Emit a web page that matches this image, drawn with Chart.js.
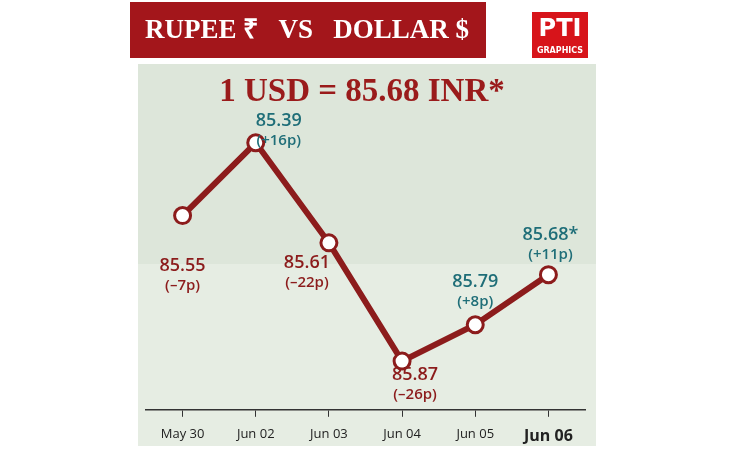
<!DOCTYPE html>
<html>
<head>
<meta charset="utf-8">
<script src="https://cdn.jsdelivr.net/npm/chart.js@4"></script>
<style>
  body { margin: 0; background: #fff; }
  #wrap { width: 750px; height: 450px; }
</style>
</head>
<body>
<div id="wrap"><canvas id="c" width="750" height="450"></canvas></div>
<script>
const dates = ['May 30', 'Jun 02', 'Jun 03', 'Jun 04', 'Jun 05', 'Jun 06'];
const rates = [85.55, 85.39, 85.61, 85.87, 85.79, 85.68];
const changes = ['(–7p)', '(+16p)', '(–22p)', '(–26p)', '(+8p)', '(+11p)'];
const rateLabels = ['85.55', '85.39', '85.61', '85.87', '85.79', '85.68*'];

const RED = '#8c1c1c';
const TEAL = '#1f6e78';

// where each value label sits relative to its point
const labelOffsets = [[0, 50], [23, -22], [-22, 20], [13, 14], [0, -43], [2, -40]];

const decor = {
  id: 'decor',
  beforeDraw(chart) {
    const ctx = chart.ctx;
    ctx.save();
    ctx.fillStyle = '#fff';
    ctx.fillRect(0, 0, 750, 450);
    // pale banknote backdrop
    ctx.fillStyle = '#e6ede3';
    ctx.fillRect(138, 64, 458, 382);
    ctx.fillStyle = '#dde6da';
    ctx.fillRect(138, 64, 458, 200);
    // title bar
    ctx.fillStyle = '#a3161b';
    ctx.fillRect(130, 2, 356, 56);
    ctx.fillStyle = '#fff';
    ctx.font = 'bold 27px "Liberation Serif", serif';
    ctx.textBaseline = 'middle';
    ctx.fillText('RUPEE ₹   VS   DOLLAR $', 145, 31);
    // PTI logo
    ctx.fillStyle = '#d7141a';
    ctx.fillRect(532, 12, 56, 46);
    ctx.fillStyle = '#fff';
    ctx.textAlign = 'center';
    ctx.font = 'bold 24px "DejaVu Sans", sans-serif';
    ctx.fillText('PTI', 560, 30);
    ctx.font = 'bold 8px "DejaVu Sans", sans-serif';
    ctx.fillText('GRAPHICS', 560, 51);
    // headline
    ctx.fillStyle = '#9a1b1b';
    ctx.font = 'bold 33px "Liberation Serif", serif';
    ctx.fillText('1 USD = 85.68 INR*', 362, 92);
    ctx.restore();
  },
  afterDatasetsDraw(chart) {
    const ctx = chart.ctx;
    const pts = chart.getDatasetMeta(0).data;
    ctx.save();
    ctx.textAlign = 'center';
    ctx.textBaseline = 'middle';
    pts.forEach((p, i) => {
      const col = changes[i].includes('+') ? TEAL : RED;
      const x = p.x + labelOffsets[i][0];
      const y = p.y + labelOffsets[i][1];
      ctx.fillStyle = col;
      ctx.font = '600 18px "Open Sans", sans-serif';
      ctx.fillText(rateLabels[i], x, y);
      ctx.font = '600 15px "Open Sans", sans-serif';
      ctx.fillText(changes[i], x, y + 20);
    });
    ctx.restore();
  }
};

new Chart(document.getElementById('c'), {
  type: 'line',
  data: {
    labels: dates,
    datasets: [{
      data: rates,
      borderColor: RED,
      borderWidth: 6,
      pointRadius: 8,
      pointBorderWidth: 3,
      pointBackgroundColor: '#fff',
      pointBorderColor: RED,
      tension: 0
    }]
  },
  options: {
    responsive: false,
    animation: false,
    layout: { padding: { left: 146, right: 165, top: 100, bottom: -6 } },
    plugins: { legend: { display: false }, tooltip: { enabled: false } },
    scales: {
      x: {
        offset: true,
        border: { color: '#333', width: 1.5 },
        grid: { display: true, drawOnChartArea: false, color: '#333', tickLength: 7 },
        ticks: {
          color: '#222',
          padding: 10,
          font: ctx => ctx.index === 5
            ? { size: 16, weight: 'bold', family: 'Open Sans' }
            : { size: 13, family: 'Open Sans' }
        }
      },
      y: {
        display: false,
        reverse: true,
        min: 85.296,
        max: 85.977
      }
    }
  },
  plugins: [decor]
});
</script>
</body>
</html>
